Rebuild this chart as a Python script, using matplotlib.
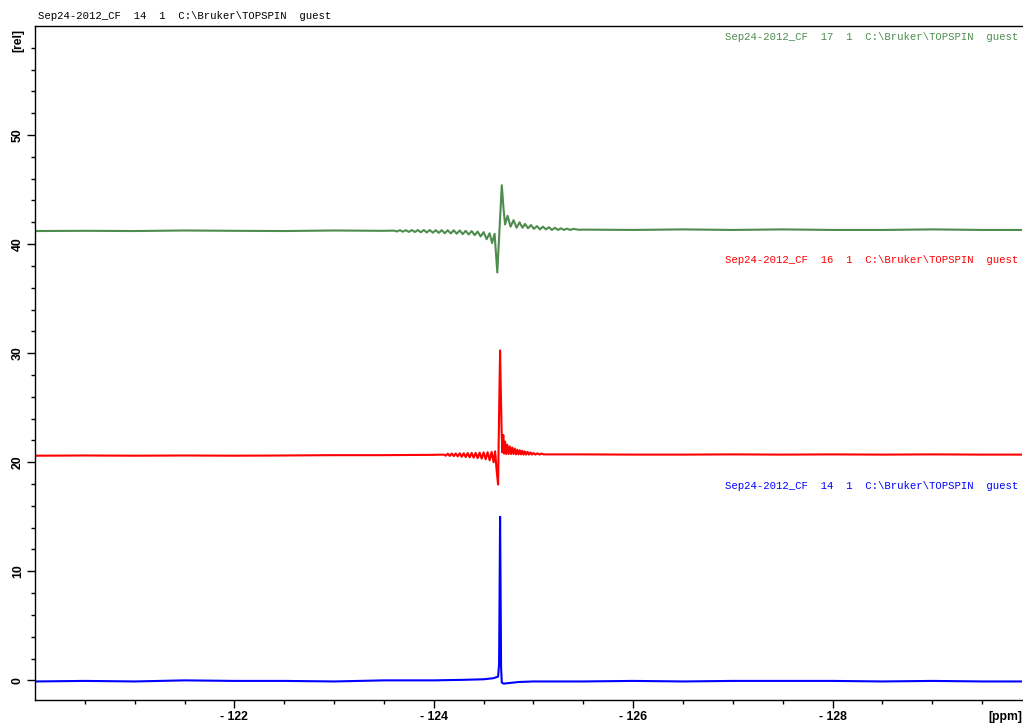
import matplotlib.pyplot as plt

# spectrum 14 (blue)
blue_ppm = [-120.0, -120.5, -121.0, -121.5, -122.0, -122.5, -123.0, -123.5, -124.0, -124.3,
            -124.5, -124.6, -124.645, -124.655, -124.66, -124.665, -124.67, -124.675, -124.682,
            -124.70, -124.75, -124.85, -125.0, -125.5, -126.0, -126.5, -127.0, -127.5, -128.0,
            -128.5, -129.0, -129.5, -129.9]
blue_rel = [-0.1, -0.05, -0.1, 0.0, -0.05, -0.05, -0.1, 0.0, 0.0, 0.05,
            0.1, 0.2, 0.35, 1.5, 8.0, 15.0, 8.5, 1.2, -0.2,
            -0.3, -0.25, -0.15, -0.1, -0.1, -0.05, -0.1, -0.05, -0.05, -0.05,
            -0.1, -0.05, -0.1, -0.1]

# spectrum 16 (red)
red_ppm = [-120.0, -120.5, -121.0, -121.5, -122.0, -122.5, -123.0, -123.5, -124.0, -124.1,
           -124.12, -124.14, -124.16, -124.18, -124.20, -124.22, -124.24, -124.26, -124.28, -124.30,
           -124.32, -124.34, -124.36, -124.38, -124.40, -124.42, -124.44, -124.46, -124.48, -124.50,
           -124.52, -124.54, -124.56, -124.58, -124.60, -124.615, -124.63, -124.645, -124.655, -124.665,
           -124.672, -124.68, -124.688, -124.697, -124.705, -124.715, -124.725, -124.737, -124.75, -124.762,
           -124.775, -124.787, -124.80, -124.812, -124.825, -124.837, -124.85, -124.862, -124.875, -124.887,
           -124.90, -124.912, -124.925, -124.94, -124.955, -124.97, -124.985, -125.0, -125.02, -125.04,
           -125.06, -125.08, -125.1, -125.5, -126.0, -126.5, -127.0, -127.5, -128.0, -128.5,
           -129.0, -129.5, -129.9]
red_rel = [20.6, 20.62, 20.6, 20.62, 20.6, 20.62, 20.65, 20.65, 20.68, 20.7,
           20.6, 20.78, 20.58, 20.8, 20.56, 20.8, 20.54, 20.82, 20.5, 20.82,
           20.48, 20.84, 20.45, 20.85, 20.42, 20.86, 20.38, 20.88, 20.33, 20.9,
           20.27, 20.92, 20.18, 20.95, 20.0, 21.0, 19.3, 17.95, 24.5, 30.25,
           26.7, 23.0, 20.9, 22.5, 20.8, 21.9, 20.75, 21.6, 20.75, 21.45,
           20.75, 21.35, 20.75, 21.25, 20.72, 21.15, 20.72, 21.1, 20.72, 21.05,
           20.7, 21.0, 20.7, 20.95, 20.7, 20.9, 20.7, 20.85, 20.7, 20.82,
           20.7, 20.8, 20.72, 20.72, 20.7, 20.7, 20.72, 20.7, 20.72, 20.7,
           20.72, 20.7, 20.7]

# spectrum 17 (green)
green_ppm = [-120.0, -120.5, -121.0, -121.5, -122.0, -122.5, -123.0, -123.5,
             -123.60, -123.63, -123.66, -123.69, -123.72, -123.75, -123.78, -123.81, -123.84, -123.87,
             -123.90, -123.93, -123.96, -123.99, -124.02, -124.05, -124.08, -124.11, -124.14, -124.17,
             -124.20, -124.23, -124.26, -124.29, -124.32, -124.35, -124.38, -124.41, -124.44, -124.47,
             -124.50, -124.53, -124.56, -124.585, -124.61, -124.637, -124.66, -124.682, -124.70, -124.715,
             -124.74, -124.77, -124.80, -124.83, -124.86, -124.89, -124.915, -124.945, -124.975, -125.005,
             -125.035, -125.065, -125.095, -125.125, -125.155, -125.185, -125.215, -125.245, -125.275, -125.305,
             -125.335, -125.37, -125.40, -125.45, -125.5, -126.0, -126.5, -127.0, -127.5, -128.0,
             -128.5, -129.0, -129.5, -129.9]
green_rel = [41.2, 41.22, 41.2, 41.25, 41.22, 41.2, 41.25, 41.22,
             41.24, 41.16, 41.28, 41.14, 41.28, 41.12, 41.29, 41.11, 41.29, 41.09,
             41.29, 41.07, 41.29, 41.05, 41.28, 41.03, 41.28, 41.0, 41.27, 40.98,
             41.27, 40.96, 41.25, 40.92, 41.22, 40.88, 41.2, 40.82, 41.15, 40.7,
             41.1, 40.45, 41.0, 40.1, 40.95, 37.4, 41.5, 45.4, 43.2, 41.8,
             42.6, 41.6, 42.2, 41.5, 42.0, 41.5, 41.85, 41.45, 41.75, 41.4,
             41.65, 41.35, 41.6, 41.35, 41.55, 41.3, 41.5, 41.3, 41.45, 41.3,
             41.42, 41.3, 41.4, 41.32, 41.33, 41.3, 41.35, 41.3, 41.35, 41.3,
             41.3, 41.35, 41.3, 41.3]

x_ticks = [-122, -124, -126, -128]
x_labels = ['- 122', '- 124', '- 126', '- 128']
y_ticks = [0, 10, 20, 30, 40, 50]

header = 'Sep24-2012_CF  %d  1  C:\\Bruker\\TOPSPIN  guest'
blue_c = '#0000ff'
red_c = '#ff0000'
green_c = '#4e8c4e'

fig = plt.figure(figsize=(10.23, 7.24), dpi=100)
ax = fig.add_axes([35 / 1023, 24 / 724, 987 / 1023, 674 / 724])

ax.plot(blue_ppm, blue_rel, color=blue_c, lw=1.5)
ax.plot(red_ppm, red_rel, color=red_c, lw=1.5)
ax.plot(green_ppm, green_rel, color=green_c, lw=1.5)

ax.set_xlim(-120.0, -129.9)
ax.set_ylim(-1.8, 60)

ax.spines['right'].set_visible(False)
for s in ['left', 'bottom', 'top']:
    ax.spines[s].set_linewidth(1.0)

ax.set_xticks(x_ticks)
ax.set_xticklabels(x_labels, fontsize=8.8, fontweight='bold', family='Liberation Sans')
ax.set_xticks([-120.5 - 0.5 * i for i in range(19) if (-120.5 - 0.5 * i) not in x_ticks], minor=True)
ax.set_yticks(y_ticks)
ax.set_yticklabels([str(v) for v in y_ticks], fontsize=8.8, fontweight='bold',
                   family='Liberation Sans', rotation=90, va='center')
ax.set_yticks([v for v in range(0, 60, 2) if v % 10 != 0], minor=True)
ax.tick_params(which='major', length=5.5, width=1.0, pad=2.5)
ax.tick_params(which='minor', length=3.2, width=1.0)

mono = 'Liberation Mono'
fig.text(38 / 1023, 1 - 16 / 724, header % 14, family=mono, fontsize=7.7, va='center')
ax.text(0.996, 59.0, header % 17, color=green_c, family=mono, fontsize=7.7,
        ha='right', va='center', transform=ax.get_yaxis_transform())
ax.text(0.996, 38.5, header % 16, color=red_c, family=mono, fontsize=7.7,
        ha='right', va='center', transform=ax.get_yaxis_transform())
ax.text(0.996, 17.85, header % 14, color=blue_c, family=mono, fontsize=7.7,
        ha='right', va='center', transform=ax.get_yaxis_transform())

fig.text(18 / 1023, 1 - 40 / 724, '[rel]', rotation=90, fontsize=8.8, fontweight='bold',
         family='Liberation Sans', ha='center', va='center')
fig.text(1005 / 1023, 1 - 717 / 724, '[ppm]', fontsize=8.8, fontweight='bold',
         family='Liberation Sans', ha='center', va='center')

fig.savefig('out.png', dpi=100)
